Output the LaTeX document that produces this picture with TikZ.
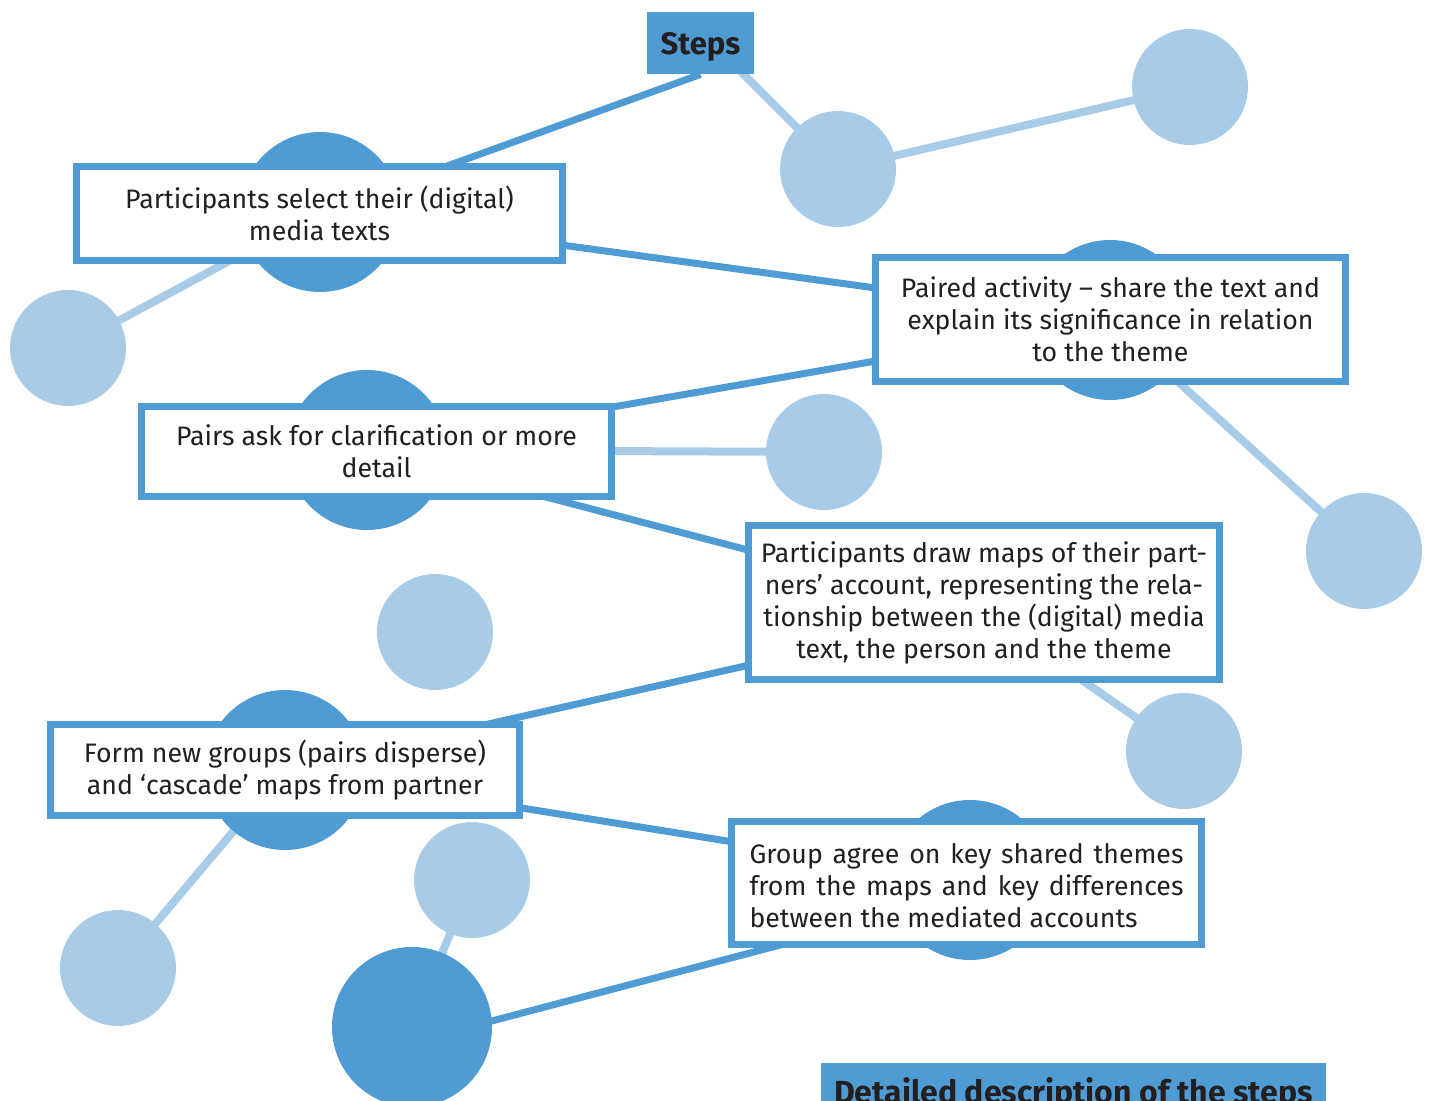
\documentclass[tikz,border=0pt]{standalone}
\usepackage{fontspec}
\setmainfont{Fira Sans}
\definecolor{stepblue}{HTML}{4F9CD4}
\definecolor{paleblue}{HTML}{A8CBE8}
\definecolor{ink}{HTML}{231F20}
\pgfdeclarelayer{links}
\pgfsetlayers{links,main}
\begin{document}
\begin{tikzpicture}[x=0.5pt,y=-0.5pt,
  hub/.style={circle,fill=stepblue,minimum size=80pt,inner sep=0pt},
  leaf/.style={circle,fill=paleblue,minimum size=58pt,inner sep=0pt},
  stepbox/.style={draw=stepblue,line width=3.5pt,fill=white,text=ink,
    font=\fontsize{13.35}{16}\selectfont,align=center,inner sep=0pt,
    execute at begin node=\rule{0pt}{13pt}},
  heading/.style={fill=stepblue,text=ink,font=\fontsize{16}{18}\selectfont\bfseries,inner sep=0pt},
  strong/.style={draw=stepblue,line width=3.5pt},
  faint/.style={draw=paleblue,line width=4pt}]
\useasboundingbox (0,0) rectangle (1431,1101);

% heading tabs
\node[heading,minimum width=53.5pt,minimum height=31pt,text height=12pt,text depth=0pt,
  font=\fontsize{15.5}{18}\selectfont\bfseries] (steps) at (700.5,43) {Steps};
\node[heading,minimum width=252.5pt,minimum height=31pt] (detail) at (1073.5,1094) {Detailed description of the steps};

% dark hubs behind the step boxes
\node[hub] (h1) at (320,212) {};
\node[hub] (h2) at (1110,320) {};
\node[hub] (h3) at (367,450) {};
\node[hub] (h4) at (984,603) {};
\node[hub] (h5) at (285,770) {};
\node[hub] (h6) at (970,880) {};
\node[hub] (h7) at (412,1027) {};

% pale satellites
\node[leaf] (l1) at (838,169) {};
\node[leaf] (l2) at (1190,87) {};
\node[leaf] (l3) at (68,348) {};
\node[leaf] (l4) at (1364,551) {};
\node[leaf] (l5) at (824,452) {};
\node[leaf] (l6) at (1184,751) {};
\node[leaf] (l7) at (435,632) {};
\node[leaf] (l8) at (118,968) {};
\node[leaf] (l9) at (472,880) {};

% step boxes
\node[stepbox,minimum width=243pt,minimum height=47pt] (s1) at (319.5,213.5)
  {Participants select their (digital)\\media texts};
\node[stepbox,minimum width=235pt,minimum height=62pt] (s2) at (1110.5,319.5)
  {Paired activity -- share the text and\\explain its significance in relation\\to the theme};
\node[stepbox,minimum width=235pt,minimum height=45pt] (s3) at (376.5,451.5)
  {Pairs ask for clarification or more\\detail};
\node[stepbox,minimum width=235.5pt,minimum height=77pt] (s4) at (984,602.5)
  {Participants draw maps of their part-\\ners’ account, representing the rela-\\tionship between the (digital) media\\text, the person and the theme};
\node[stepbox,minimum width=234.5pt,minimum height=45.5pt] (s5) at (285,770)
  {Form new groups (pairs disperse)\\and ‘cascade’ maps from partner};
\node[stepbox,minimum width=235pt,minimum height=61.5pt,text width=217pt,align=justify] (s6) at (966.5,883)
  {Group agree on key shared themes\linebreak from the maps and key differences\linebreak between the mediated accounts};

% connectors, kept underneath the discs and boxes
\begin{pgfonlayer}{links}
  \draw[strong] (h1.center) -- (steps.south);
  \draw[strong] (h1.center) -- (h2.center);
  \draw[strong] (h2.center) -- (h3.center);
  \draw[strong] (h3.center) -- ([yshift=-4.5pt]h4.center);
  \draw[strong] ([yshift=-4.5pt]h4.center) -- (h5.center);
  \draw[strong] (h5.center) -- (h6.center);
  \draw[strong] ([yshift=-7.5pt]h7.center) -- ([yshift=-7.5pt]h6.center);
  \draw[faint] ([xshift=6pt]steps.center) -- (l1.center);
  \draw[faint] (l1.center) -- (l2.center);
  \draw[faint] (h1.center) -- (l3.center);
  \draw[faint] (h2.center) -- (l4.center);
  \draw[faint] (h3.center) -- (l5.center);
  \draw[faint] ([yshift=-4.5pt]h4.center) -- (l6.center);
  \draw[faint] (h5.center) -- (l8.center);
  \draw[faint] (h7.center) -- (l9.center);
\end{pgfonlayer}
\end{tikzpicture}
\end{document}
